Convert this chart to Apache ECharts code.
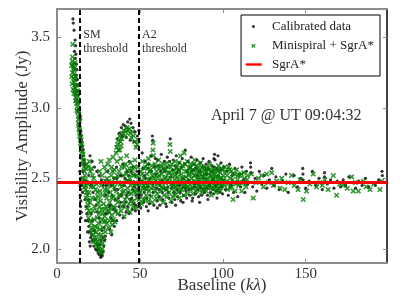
<!DOCTYPE html>
<html>
<head>
<meta charset="utf-8">
<script src="https://cdn.jsdelivr.net/npm/echarts@6/dist/echarts.min.js"></script>
<style>html,body{margin:0;padding:0;background:#fff;}#c{width:407px;height:307px;}</style>
</head>
<body>
<div id="c"></div>
<script>
// ---------- data ----------
const xTicks = [0, 50, 100, 150];
const yTicks = [2.0, 2.5, 3.0, 3.5];
const xRange = [0, 199];
const yRange = [1.9, 3.7];
const sgraLevel = 2.47;
const thresholds = [{name: 'SM', x: 14}, {name: 'A2', x: 49.5}];
const dateText = 'April 7 @ UT 09:04:32';

const calibrated = [
[9.6,3.63],[9.8,3.60],[10.3,3.55],[10.9,3.48],[11.2,3.44],[10.5,3.40],[11.4,3.38],[11.0,3.35],[11.7,3.31],[12.0,3.27],[11.6,3.23],[12.3,3.20],[12.6,3.16],[12.2,3.12],[12.9,3.09],[13.2,3.04],[13.0,2.99],[13.6,2.96],[13.9,2.91],[13.5,2.87],[14.2,2.84],[14.5,2.80],[14.9,2.76],[15.3,2.73],[15.7,2.70],[16.0,2.66],[16.4,2.63],[16.7,2.60],
[13.8,2.55],[14.1,2.50],[13.9,2.45],[14.3,2.42],[14.0,2.38],[14.4,2.34],[14.2,2.30],[14.6,2.26],[14.5,2.22],[15.0,2.45],[15.4,2.40],
[17.5,2.30],[18.0,2.25],[18.6,2.20],[19.2,2.16],[19.8,2.12],[20.3,2.08],[20.9,2.10],[21.3,2.06],[19.5,2.05],[20.0,2.02],[22.2,2.02],[23.2,2.00],[24.0,1.99],[24.8,1.97],[25.5,1.96],[26.3,1.94],[26.7,1.96],[27.2,1.95],[27.8,1.98],[28.2,2.02],[28.7,2.06],[29.0,2.09],[18.2,2.48],[19.1,2.52],[20.5,2.45],[21.7,2.40],[22.8,2.35],[23.6,2.31],[24.5,2.26],[25.3,2.22],[26.0,2.19],[27.1,2.13],[19.9,2.66],[21.2,2.62],[22.6,2.58],[24.0,2.55],[25.4,2.52],[26.8,2.49],[28.0,2.45],[29.4,2.38],
[30.3,2.25],[31.2,2.40],[32.0,2.31],[32.8,2.45],[33.5,2.20],[34.3,2.50],[35.1,2.35],[35.9,2.58],[36.7,2.42],[37.4,2.30],[38.2,2.52],[39.0,2.38],[39.7,2.60],[40.5,2.45],[41.3,2.33],[42.1,2.55],[42.8,2.40],[43.6,2.62],[44.4,2.48],[45.1,2.36],[45.9,2.58],[46.7,2.44],[47.4,2.31],[48.2,2.55],[49.0,2.41],[49.8,2.50],
[36.3,2.78],[37.6,2.82],[38.8,2.86],[40.0,2.88],[41.2,2.87],[42.6,2.90],[43.9,2.92],[44.6,2.89],[45.8,2.86],[47.1,2.83],[48.5,2.80],[49.4,2.84],[39.4,2.80],[41.8,2.79],[44.2,2.77],[46.4,2.76],
[31.8,2.14],[33.0,2.10],[34.6,2.16],[36.0,2.20],[37.9,2.24],[39.9,2.22],[41.7,2.26],[43.5,2.25],[45.4,2.28],[47.3,2.27],[49.1,2.30],
[50.5,2.29],[51.4,2.68],[52.2,2.33],[53.1,2.62],[53.9,2.30],[54.8,2.57],[55.7,2.32],[56.6,2.66],[57.5,2.80],[57.7,2.77],[58.4,2.31],[59.3,2.64],[60.2,2.34],[61.1,2.59],[62.0,2.31],[62.9,2.67],[63.8,2.35],[64.7,2.62],[65.6,2.32],[66.5,2.65],[67.4,2.36],[68.3,2.78],[69.2,2.33],[70.1,2.63],[71.0,2.35],[71.9,2.66],[72.8,2.37],[73.7,2.61],[74.6,2.34],[75.5,2.64],[76.4,2.38],[77.3,2.70],[78.2,2.36],[79.1,2.62],[80.0,2.38],[80.9,2.65],[81.8,2.36],[82.7,2.60],[83.6,2.39],[84.5,2.63],[85.4,2.37],[86.3,2.61],[87.2,2.38],[88.1,2.64],[89.0,2.40],[89.9,2.60],[90.8,2.38],[91.7,2.62],[92.6,2.40],[93.5,2.59],[94.4,2.39],[95.3,2.63],[96.2,2.41],[97.1,2.66],[98.0,2.40],[98.9,2.61],[99.8,2.39],
[51.0,2.48],[52.7,2.52],[54.4,2.44],[56.1,2.50],[57.9,2.46],[59.7,2.53],[61.5,2.42],[63.2,2.49],[65.0,2.55],[66.8,2.44],[68.5,2.51],[70.3,2.47],[72.1,2.54],[73.9,2.45],[75.7,2.50],[77.5,2.43],[79.3,2.49],[81.1,2.55],[82.9,2.46],[84.7,2.52],[86.5,2.44],[88.3,2.50],[90.1,2.53],[91.9,2.45],[93.7,2.49],[95.5,2.44],[97.3,2.52],[99.1,2.47],
[55.0,2.27],[60.5,2.29],[66.0,2.30],[71.5,2.31],[76.0,2.33],[81.5,2.34],[86.0,2.33],[91.0,2.35],[96.5,2.36],[94.6,2.64],[95.0,2.67],
[15.6,2.55],[16.2,2.48],[16.9,2.35],[17.2,2.20],[18.4,2.12],[19.0,2.35],[20.7,2.25],[21.5,2.20],[22.5,2.13],[23.4,2.07],[24.3,2.03],[25.1,2.00],[25.9,2.03],[26.5,2.06],[27.5,2.08],[28.4,2.15],[29.2,2.25],[29.8,2.45],[30.7,2.55],[31.5,2.30],[32.4,2.22],[33.2,2.38],[34.0,2.28],[34.8,2.42],[35.5,2.27],[36.2,2.50],[37.0,2.36],[37.8,2.47],[38.5,2.33],[39.3,2.52],[40.2,2.30],[41.0,2.50],[41.9,2.38],[42.7,2.30],[43.2,2.52],[44.0,2.35],[44.9,2.55],[45.6,2.42],[46.3,2.32],[47.0,2.52],[47.8,2.38],[48.6,2.46],[49.3,2.36],
[50.8,2.38],[51.7,2.57],[52.5,2.40],[53.4,2.50],[54.2,2.36],[55.3,2.60],[56.0,2.38],[57.0,2.55],[58.0,2.40],[58.8,2.58],[59.8,2.43],[60.7,2.63],[61.7,2.37],[62.5,2.55],[63.5,2.40],[64.3,2.57],[65.3,2.42],[66.2,2.58],[67.0,2.40],[67.9,2.62],[68.9,2.43],[69.7,2.56],[70.6,2.40],[71.4,2.59],[72.4,2.42],[73.3,2.56],[74.2,2.40],[75.1,2.58],[76.0,2.44],[76.9,2.60],[77.8,2.41],[78.7,2.55],[79.6,2.42],[80.5,2.58],[81.4,2.43],[82.3,2.56],[83.2,2.44],[84.1,2.57],[85.0,2.42],[85.9,2.55],[86.8,2.43],[87.7,2.58],[88.6,2.42],[89.5,2.56],[90.4,2.43],[91.3,2.57],[92.2,2.45],[93.1,2.55],[94.0,2.42],[94.9,2.58],[95.8,2.45],[96.7,2.57],[97.6,2.43],[98.5,2.56],[99.4,2.44],
[100.7,2.58],[101.5,2.42],[102.4,2.55],[103.3,2.38],[104.0,2.60],[104.8,2.45],[105.6,2.52],[106.5,2.40],[107.3,2.57],[108.1,2.47],[109.0,2.37],[109.8,2.53],[110.7,2.44],[111.5,2.58],[112.4,2.49],[113.3,2.40],[114.2,2.55],[115.0,2.46],[116.7,2.61],[116.8,2.58],[117.0,2.54],[118.0,2.44],[119.5,2.50],[120.5,2.41],[122.0,2.55],[123.5,2.46],[125.0,2.52],[126.5,2.43],[128.0,2.49],[129.5,2.57],[131.0,2.45],[132.0,2.51],[134.0,2.42],[136.0,2.48],[138.0,2.53],[139.5,2.40],[141.0,2.47],[143.0,2.52],[145.0,2.44],[147.0,2.50],[148.2,2.57],[148.3,2.53],[148.4,2.49],[150.0,2.43],[152.0,2.48],[154.0,2.55],[156.0,2.45],[158.0,2.50],[160.0,2.42],[161.3,2.54],[161.4,2.51],[163.0,2.46],[165.0,2.49],[167.0,2.43],[169.0,2.48],[171.0,2.44],[172.6,2.49],[174.0,2.45],[176.0,2.51],[178.0,2.47],[180.0,2.43],[182.0,2.48],[184.0,2.45],[186.0,2.50],[188.0,2.44],[190.0,2.47],[192.0,2.45],[194.0,2.49],[196.0,2.55],[196.2,2.52],[197.5,2.47]
];

const minispiral = [
[9.5,3.45],[9.2,3.33],[9.6,3.31],[9.9,3.29],[10.1,3.27],[9.4,3.25],[10.3,3.24],[10.0,3.21],[10.6,3.20],[10.4,3.18],[10.8,3.16],[11.0,3.14],[10.7,3.12],[11.3,3.10],[11.5,3.07],[11.2,3.05],[11.8,3.03],[12.1,3.06],[12.3,3.01],[12.0,2.98],[12.6,2.97],[12.8,2.94],[13.1,2.92],[12.9,2.89],[13.4,2.88],[13.2,2.85],[13.7,2.84],[14.0,2.82],[13.6,2.80],[14.3,2.79],[14.6,2.77],[14.1,2.75],[14.8,2.74],[15.1,2.72],[14.5,2.70],[15.3,2.69],[15.6,2.67],[15.0,2.65],[15.8,2.63],[16.1,2.62],[15.4,2.60],[16.3,2.58],
[8.8,3.30],[8.9,3.22],[9.1,3.17],[9.7,3.13],[10.2,3.10],[10.9,3.32],[11.4,3.22],[11.7,3.16],[12.4,3.12],[9.3,3.36],[10.5,3.28],[11.9,3.09],[12.7,3.04],[13.3,2.98],[13.9,2.93],
[16.5,2.55],[16.8,2.52],[17.0,2.49],[16.2,2.47],[17.4,2.45],[17.1,2.42],[17.8,2.40],[18.2,2.38],[17.6,2.36],[18.5,2.34],[18.9,2.31],[18.3,2.29],[19.3,2.27],[19.7,2.25],[19.0,2.22],[20.2,2.20],[20.6,2.18],[21.0,2.15],[20.3,2.12],[21.5,2.13],[22.0,2.10],[22.4,2.08],[21.8,2.05],[23.0,2.06],[23.5,2.03],[24.1,2.05],[24.6,2.01],[25.2,2.02],[25.8,1.99],[26.4,1.98],[26.9,1.97],[27.3,2.00],[26.1,2.04],[25.5,2.07],[27.6,2.04],
[18.0,2.60],[18.8,2.58],[19.5,2.62],[20.1,2.55],[20.8,2.57],[21.4,2.52],[22.1,2.50],[22.7,2.47],[21.9,2.44],[23.3,2.42],[23.8,2.46],[24.4,2.40],[25.0,2.37],[24.7,2.33],[25.6,2.30],[26.2,2.34],[26.8,2.28],[27.4,2.25],[27.0,2.21],[23.1,2.36],[22.5,2.30],[23.9,2.27],[24.3,2.22],[25.1,2.18],[25.9,2.14],[26.6,2.10],[27.9,2.15],[28.3,2.19],[28.8,2.23],[29.1,2.12],[28.5,2.08],[25.7,2.55],[27.2,2.52],[28.6,2.58],[26.5,2.62],
[29.5,2.30],[30.0,2.36],[30.4,2.42],[30.9,2.27],[31.3,2.48],[31.8,2.33],[32.2,2.40],[32.7,2.52],[33.1,2.24],[33.6,2.45],[34.0,2.37],[34.5,2.56],[34.9,2.29],[35.3,2.50],[35.8,2.41],[36.2,2.62],[36.6,2.33],[37.1,2.47],[37.5,2.55],[38.0,2.38],[38.4,2.64],[38.9,2.44],[39.3,2.30],[39.8,2.52],[40.2,2.41],[40.7,2.58],[41.1,2.35],[41.6,2.48],[42.0,2.66],[42.5,2.43],[42.9,2.55],[43.4,2.32],[43.8,2.50],[44.3,2.61],[44.7,2.39],[45.2,2.47],[45.6,2.57],[46.1,2.34],[46.5,2.45],[47.0,2.63],[47.4,2.40],[47.9,2.52],[48.3,2.36],[48.8,2.58],[49.2,2.44],[49.7,2.31],
[30.2,2.18],[31.0,2.15],[31.6,2.20],[32.5,2.12],[33.3,2.17],[34.2,2.21],[35.0,2.19],[29.8,2.55],[30.6,2.60],[31.5,2.63],[32.9,2.58],[33.8,2.65],[35.6,2.68],[37.8,2.70],
[36.5,2.74],[37.2,2.77],[37.8,2.80],[38.3,2.76],[39.0,2.78],[39.6,2.82],[40.3,2.84],[40.9,2.80],[41.5,2.83],[42.2,2.86],[42.8,2.84],[43.5,2.85],[44.1,2.82],[44.8,2.79],[45.5,2.83],[46.2,2.80],[46.9,2.76],[47.6,2.72],[48.4,2.74],[49.1,2.77],[36.0,2.72],[37.0,2.70],[38.7,2.73],
[28.9,2.42],[29.3,2.48],[36.9,2.25],[38.6,2.27],[40.5,2.23],[42.4,2.28],[44.0,2.26],[45.9,2.30],[47.7,2.29],[49.5,2.35],[40.0,2.46],[41.9,2.53],[43.1,2.40],[44.5,2.45],[46.3,2.52],[48.0,2.46],
[15.9,2.50],[16.6,2.44],[17.3,2.57],[18.6,2.46],[19.2,2.40],[19.9,2.33],[20.5,2.44],[21.2,2.36],[21.7,2.27],[22.3,2.21],[22.9,2.16],[23.6,2.12],[24.2,2.15],[24.9,2.10],[25.4,2.25],[26.0,2.41],[26.7,2.45],[27.5,2.38],[28.1,2.32],[28.7,2.28],[29.2,2.20],[29.6,2.39],[30.1,2.50],[30.8,2.45],[31.4,2.26],[32.0,2.29],[32.4,2.47],[33.0,2.36],[33.5,2.55],[34.1,2.30],[34.7,2.44],[35.2,2.26],[35.9,2.35],[36.4,2.52],[37.3,2.38],[38.1,2.46],[38.9,2.58],[39.5,2.40],[40.4,2.32],[41.3,2.60],[42.1,2.37],[43.0,2.48],[43.7,2.57],[44.6,2.34],[45.3,2.53],[46.0,2.41],[46.8,2.58],[47.5,2.47],[48.2,2.42],[48.9,2.51],[49.6,2.40],
[50.2,2.40],[50.6,2.55],[51.1,2.47],[51.5,2.62],[51.9,2.35],[52.4,2.50],[52.8,2.43],[53.3,2.58],[53.7,2.38],[54.2,2.53],[54.6,2.45],[55.1,2.64],[55.5,2.41],[56.0,2.49],[56.4,2.56],[56.9,2.37],[57.3,2.52],[57.8,2.70],[58.0,2.75],[58.2,2.66],[58.6,2.44],[59.1,2.60],[59.5,2.48],[60.0,2.55],
[60.4,2.39],[60.9,2.51],[61.3,2.63],[61.8,2.45],[62.2,2.57],[62.7,2.41],[63.1,2.53],[63.6,2.47],[64.0,2.60],[64.5,2.38],[64.9,2.50],[65.4,2.56],[65.8,2.43],[66.3,2.61],[66.7,2.48],[67.2,2.54],[67.6,2.40],[68.1,2.74],[68.3,2.69],[68.6,2.58],[69.0,2.46],[69.5,2.52],[69.9,2.37],
[70.4,2.55],[70.8,2.49],[71.3,2.62],[71.7,2.44],[72.2,2.58],[72.6,2.51],[73.1,2.40],[73.5,2.56],[74.0,2.47],[74.4,2.66],[74.9,2.53],[75.3,2.42],[75.8,2.59],[76.2,2.50],[76.7,2.68],[77.1,2.45],[77.6,2.55],[78.0,2.48],[78.5,2.62],[78.9,2.39],[79.4,2.52],[79.8,2.57],
[80.3,2.46],[80.7,2.60],[81.2,2.50],[81.6,2.43],[82.1,2.56],[82.5,2.48],[83.0,2.63],[83.4,2.52],[83.9,2.41],[84.3,2.55],[84.8,2.49],[85.2,2.58],[85.7,2.45],[86.1,2.53],[86.6,2.61],[87.0,2.47],[87.5,2.55],[87.9,2.42],[88.4,2.51],[88.8,2.58],[89.3,2.49],[89.7,2.54],
[90.2,2.44],[90.6,2.57],[91.1,2.50],[91.5,2.46],[92.0,2.60],[92.4,2.52],[92.9,2.43],[93.3,2.55],[93.8,2.49],[94.2,2.57],[94.7,2.45],[95.1,2.53],[95.6,2.48],[96.0,2.56],[96.5,2.42],[96.9,2.51],[97.4,2.59],[97.8,2.47],[98.3,2.54],[98.7,2.44],[99.2,2.50],[99.6,2.56],
[50.9,2.32],[53.0,2.35],[55.3,2.34],[57.5,2.33],[59.8,2.36],[62.0,2.35],[64.2,2.33],[66.5,2.37],[68.8,2.34],[71.0,2.38],[73.8,2.36],[76.5,2.38],[79.0,2.44],[81.9,2.39],[84.6,2.42],[87.2,2.40],[90.0,2.41],[93.0,2.38],[95.9,2.40],[98.5,2.41],
[52.0,2.45],[54.0,2.42],[56.2,2.46],[58.9,2.52],[61.0,2.46],[63.3,2.44],[65.1,2.47],[67.9,2.50],[70.1,2.45],[72.9,2.49],[75.0,2.47],[77.8,2.51],[80.0,2.53],[82.8,2.45],[85.5,2.51],[88.1,2.46],[91.3,2.53],[94.0,2.50],[97.1,2.46],[99.9,2.48],
[50.4,2.47],[51.3,2.53],[51.8,2.43],[52.6,2.57],[53.5,2.46],[54.4,2.60],[55.2,2.49],[55.9,2.55],[56.7,2.43],[57.1,2.59],[58.4,2.50],[59.3,2.41],[60.2,2.58],[60.7,2.47],[61.6,2.52],[62.4,2.48],[63.0,2.59],[63.9,2.43],[64.7,2.55],[65.6,2.51],[66.1,2.42],[67.0,2.58],[67.4,2.47],[68.0,2.54],[69.2,2.60],[69.7,2.44],[70.6,2.41],[71.1,2.52],[71.9,2.57],[72.4,2.45],[73.3,2.54],[73.7,2.61],[74.2,2.42],[75.1,2.57],[75.6,2.50],[76.4,2.44],[77.3,2.60],[77.9,2.43],[78.7,2.55],[79.2,2.47],[80.1,2.58],[80.5,2.42],[81.4,2.54],[82.3,2.60],[82.7,2.52],[83.6,2.47],[84.1,2.59],[85.0,2.45],[85.9,2.55],[86.4,2.49],[87.3,2.58],[87.7,2.52],[88.6,2.44],[89.0,2.53],[89.9,2.57],[90.4,2.49],[91.3,2.44],[91.8,2.56],[92.7,2.47],[93.5,2.52],[94.4,2.43],[94.9,2.55],[95.8,2.51],[96.2,2.47],[97.1,2.55],[97.6,2.43],[98.5,2.50],[99.0,2.57],[99.4,2.45],
[100.3,2.52],[100.9,2.45],[101.6,2.55],[102.2,2.48],[102.9,2.42],[103.5,2.58],[104.2,2.56],[104.7,2.50],[105.3,2.44],[106.0,2.53],[106.2,2.35],[106.8,2.47],[107.4,2.41],[108.3,2.56],[108.9,2.49],[109.6,2.45],[110.2,2.52],[111.3,2.53],[111.4,2.41],[112.0,2.47],[113.0,2.50],[114.0,2.44],[115.0,2.52],
[100.6,2.49],[101.2,2.58],[102.5,2.52],[103.1,2.46],[104.5,2.43],[105.0,2.55],[105.8,2.49],[107.1,2.53],[107.9,2.46],[109.2,2.52],[110.6,2.47],[112.6,2.54],[113.6,2.46],[114.6,2.49],
[117.3,2.53],[118.3,2.36],[120.0,2.47],[121.5,2.50],[123.3,2.52],[124.5,2.44],[126.4,2.53],[127.5,2.47],[129.4,2.54],[130.5,2.45],[132.4,2.48],[134.5,2.43],[135.5,2.50],[137.4,2.42],[139.4,2.47],[141.4,2.52],[143.0,2.45],[145.4,2.42],[146.5,2.49],[148.5,2.35],[150.5,2.41],[152.5,2.46],[154.5,2.53],[156.5,2.44],[158.5,2.47],[160.0,2.45],[161.5,2.49],[163.5,2.42],[166.6,2.52],[168.6,2.38],[170.5,2.46],[172.6,2.45],[175.0,2.43],[177.7,2.51],[178.6,2.41],[180.0,2.47],[181.7,2.41],[184.7,2.48],[186.5,2.44],[188.7,2.42],[191.0,2.46],[194.7,2.42],[195.8,2.48]
];

// ---------- style ----------
const FONT = '"Liberation Serif", "Times New Roman", serif';
const GREY = '#8c8c8c';
const GREEN = '#007a00';
const X_SYMBOL = 'path://M0,2L2,0L5,3L8,0L10,2L7,5L10,8L8,10L5,7L2,10L0,8L3,5Z';
const LEG_DOT = 'path://M0,0M24,10M8.9,5a1.5,1.5 0 1,0 3,0a1.5,1.5 0 1,0 -3,0Z';
const LEG_X = 'path://M0,0M24,10M8.5,3.5L9.5,3.5L10.4,4.4L11.3,3.5L12.3,3.5L12.3,4.5L11.4,5.4L12.3,6.3L12.3,7.3L11.3,7.3L10.4,6.4L9.5,7.3L8.5,7.3L8.5,6.3L9.4,5.4L8.5,4.5Z';
const LEG_LINE = 'path://M0,0M24,10M2.7,3.8H18.7V6.2H2.7Z';

const chart = echarts.init(document.getElementById('c'), null, {renderer: 'canvas'});

function axisX(pos, showLabel) {
  return {
    type: 'value', min: xRange[0], max: xRange[1], position: pos,
    axisLine: {show: true, onZero: false, lineStyle: {color: GREY, width: 2}},
    axisTick: {show: true, inside: true, length: 4, customValues: xTicks, lineStyle: {color: GREY, width: 1}},
    axisLabel: {show: showLabel, customValues: xTicks, fontFamily: FONT, fontSize: 15, color: '#333', margin: 4},
    splitLine: {show: false}
  };
}
function axisY(pos, showLabel, color) {
  return {
    type: 'value', min: yRange[0], max: yRange[1], position: pos,
    axisLine: {show: true, onZero: false, lineStyle: {color: color, width: pos === 'right' ? 1.5 : 2}},
    axisTick: {show: true, inside: true, length: 4, customValues: yTicks, lineStyle: {color: GREY, width: 1}},
    axisLabel: {show: showLabel, customValues: yTicks, fontFamily: FONT, fontSize: 15, color: '#333', margin: 7,
      formatter: v => v.toFixed(1)},
    splitLine: {show: false}
  };
}

const xb = axisX('bottom', true);
xb.name = 'Baseline ({i|kλ})';
xb.nameLocation = 'middle';
xb.nameGap = 14;
xb.nameMoveOverlap = false;
xb.nameTextStyle = {fontFamily: FONT, fontSize: 17, color: '#333', verticalAlign: 'top',
  rich: {i: {fontFamily: FONT, fontSize: 17, fontStyle: 'italic', color: '#333'}}};
const yl = axisY('left', true, GREY);
yl.name = 'Visibility Amplitude (Jy)';
yl.nameLocation = 'middle';
yl.nameGap = 26;
yl.nameMoveOverlap = false;
yl.nameTextStyle = {fontFamily: FONT, fontSize: 17, color: '#333'};

chart.setOption({
  animation: false,
  backgroundColor: '#fff',
  grid: {left: 57, right: 20, top: 9, bottom: 44, containLabel: false, outerBoundsMode: 'none'},
  xAxis: [xb, axisX('top', false)],
  yAxis: [yl, axisY('right', false, '#000')],
  legend: {
    orient: 'vertical', right: 27, top: 15,
    backgroundColor: '#fff', borderColor: '#000', borderWidth: 1, borderRadius: 0,
    padding: [5, 6, 5, 2], itemGap: 6, itemWidth: 24, itemHeight: 10,
    textStyle: {fontFamily: FONT, fontSize: 13, color: '#222'},
    data: [
      {name: 'Calibrated data', icon: LEG_DOT},
      {name: 'Minispiral + SgrA*', icon: LEG_X},
      {name: 'SgrA*', icon: LEG_LINE}
    ]
  },
  series: [
    {name: 'Calibrated data', type: 'scatter', data: calibrated, symbol: 'circle', symbolSize: 3.2,
      itemStyle: {color: '#000'}, z: 2},
    {name: 'Minispiral + SgrA*', type: 'scatter', data: minispiral, symbol: X_SYMBOL, symbolSize: 5.5,
      itemStyle: {color: GREEN}, z: 3,
      markLine: {silent: true, symbol: 'none', label: {show: false},
        lineStyle: {color: '#000', type: [5, 3], width: 2},
        data: thresholds.map(t => ({xAxis: t.x}))}},
    {name: 'SgrA*', type: 'line', data: [[xRange[0], sgraLevel], [xRange[1], sgraLevel]],
      showSymbol: false, symbol: 'none', lineStyle: {color: '#ff0000', width: 3}, itemStyle: {color: '#ff0000'}, z: 5}
  ]
});

// annotations placed through the chart's own scales
const annoTop = 3.57;
const graphics = thresholds.map(t => {
  const p = chart.convertToPixel({gridIndex: 0}, [t.x, annoTop]);
  return {type: 'text', x: p[0] + 3, y: p[1], z: 10,
    style: {text: t.name + '\nthreshold', font: '12px ' + FONT, fill: '#333', lineHeight: 14, verticalAlign: 'top'}};
});
const dp = chart.convertToPixel({gridIndex: 0}, [92.8, 2.94]);
graphics.push({type: 'text', x: dp[0], y: dp[1], z: 10,
  style: {text: dateText, font: '16px ' + FONT, fill: '#333', verticalAlign: 'middle'}});
chart.setOption({graphic: graphics});
</script>
</body>
</html>
